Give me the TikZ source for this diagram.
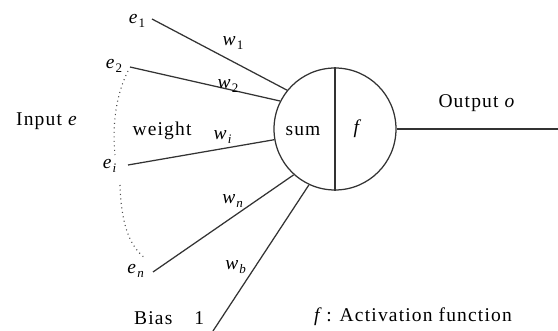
\documentclass[tikz,border=0pt]{standalone}
\usepackage{fontspec}
\setmainfont[LetterSpace=6]{Liberation Serif}
\begin{document}
\begin{tikzpicture}[x=1pt,y=-1pt,
  lab/.style={inner sep=0pt, font=\fontsize{19.5}{21}\selectfont},
  wire/.style={line width=1.25pt, draw=black!80},
  dots/.style={line width=1.1pt, draw=black!70, dash pattern=on 1pt off 3.5pt}]
\newcommand\ve[2]{\textit{#1}\raisebox{-0.45ex}{\fontsize{13}{13}\selectfont #2}}
\useasboundingbox (0,0) rectangle (558,331);
\clip (0,0) rectangle (558,331);
% neuron
\node[circle, draw=black!80, line width=1.25pt, minimum size=122pt, inner sep=0pt] (n) at (335,129) {};
\draw[wire] (n.north) -- (n.south);
\node[lab] (sum) at (303,131) {sum};
\node[lab] (f) at (358,129) {\textit{f}};
% input points
\coordinate (p1) at (152,19);
\coordinate (p2) at (130,67);
\coordinate (pi) at (128,165);
\coordinate (pn) at (153,272);
\coordinate (pb) at (213,331);
\coordinate (out) at (558,129);
\draw[wire] (p1) -- (n.141);
\draw[wire] (p2) -- (n.153);
\draw[wire] (pi) -- (n.190);
\draw[wire] (pn) -- (n.228);
\draw[wire] (pb) -- (n.245);
\draw[wire] (n.east) -- (out);
% labels
\node[lab] (e1) at (137,21) {\ve{e}{1}};
\node[lab] (e2) at (114,66) {\ve{e}{2}};
\node[lab] (ei) at (110,166) {\ve{e}{\textit{i}}};
\node[lab] (en) at (136,271) {\ve{e}{\textit{n}}};
\node[lab] (w1) at (233,43) {\ve{w}{1}};
\node[lab] (w2) at (228,86) {\ve{w}{2}};
\node[lab] (wi) at (223,137) {\ve{w}{\textit{i}}};
\node[lab] (wn) at (233,201) {\ve{w}{\textit{n}}};
\node[lab] (wb) at (236,267) {\ve{w}{\textit{b}}};
\node[lab] (weight) at (162,131) {weight};
\node[lab] (input) at (47,121) {Input \textit{e}};
\node[lab] (output) at (477,103) {Output \textit{o}};
\node[lab] (act) at (413,317) {\textit{f}\,: Activation function};
\node[lab, anchor=base west] (bias) at (134,325) {Bias\hspace{22pt}1};
% dotted arcs
\draw[dots] (128,71) .. controls (116,95) and (112,125) .. (115,155);
\draw[dots] (120,185) .. controls (121,220) and (128,245) .. (145,258);
\end{tikzpicture}
\end{document}
